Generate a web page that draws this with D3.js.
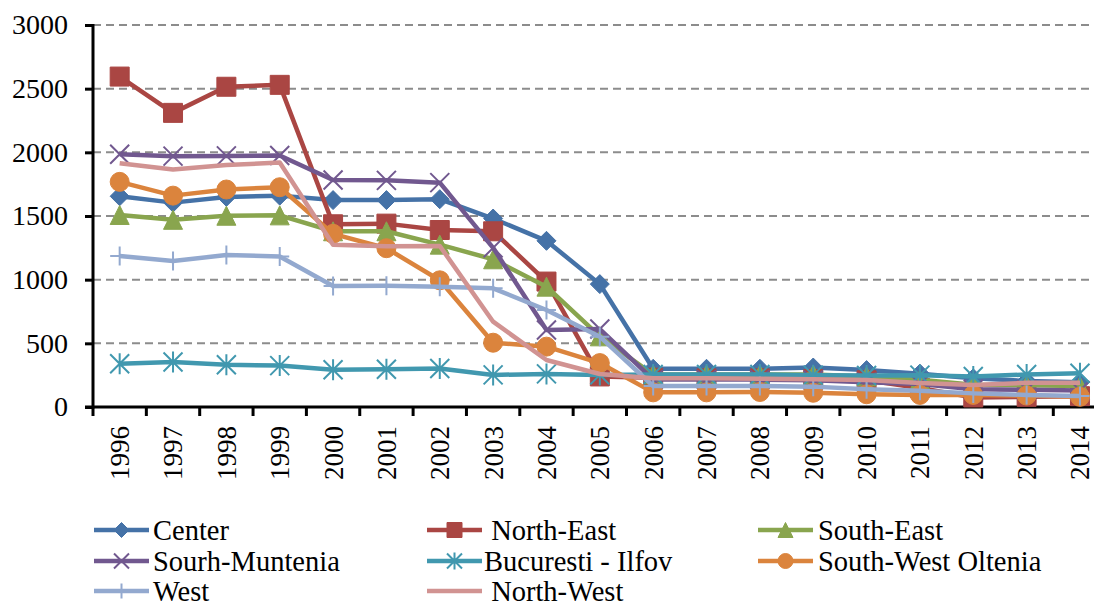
<!DOCTYPE html>
<html>
<head>
<meta charset="utf-8">
<script src="https://d3js.org/d3.v7.min.js"></script>
<style>
  body { margin: 0; background: #fff; }
  svg text { font-family: "Liberation Serif", "Times New Roman", serif; fill: #000; }
</style>
</head>
<body>
<div id="graph"></div>
<script>
// data
var years = ["1996","1997","1998","1999","2000","2001","2002","2003","2004","2005",
             "2006","2007","2008","2009","2010","2011","2012","2013","2014"];
var yTicks = [0, 500, 1000, 1500, 2000, 2500, 3000];

var center        = [1655,1605,1650,1660,1625,1625,1632,1480,1305,965,300,300,300,310,290,262,225,205,195];
var northEast     = [2595,2310,2515,2530,1435,1440,1390,1380,985,240,230,225,225,220,210,150,75,80,85];
var southEast     = [1508,1470,1502,1505,1380,1380,1275,1160,945,555,255,255,255,255,240,215,175,170,165];
var sourhMuntenia = [1985,1970,1972,1975,1783,1780,1762,1250,605,612,215,215,215,210,195,180,140,135,130];
var bucuresti     = [340,354,332,325,292,297,303,252,260,252,255,255,255,250,248,250,240,255,265];
var oltenia       = [1768,1660,1708,1726,1360,1247,995,505,474,345,115,115,118,112,100,95,95,90,80];
var west          = [1186,1147,1193,1182,950,952,945,932,762,552,165,165,165,160,140,128,107,95,86];
var northWest     = [1915,1865,1900,1920,1275,1262,1265,670,369,259,225,225,222,218,212,188,173,190,190];

var series = [
  {name: "Center",             values: center,        color: "#4572A7", marker: "diamond"},
  {name: " North-East",        values: northEast,     color: "#AA4643", marker: "square"},
  {name: "South-East",         values: southEast,     color: "#89A54E", marker: "triangle"},
  {name: "Sourh-Muntenia",     values: sourhMuntenia, color: "#71588F", marker: "x"},
  {name: "Bucuresti - Ilfov",  values: bucuresti,     color: "#4198AF", marker: "star"},
  {name: "South-West Oltenia", values: oltenia,       color: "#DB843D", marker: "circle"},
  {name: "West",               values: west,          color: "#93A9CF", marker: "plus"},
  {name: " North-West",        values: northWest,     color: "#D19392", marker: "none"}
];

var W = 1094, H = 606;
var plotLeft = 93, plotTop = 25, plotBottom = 407;
var band = 53.35;

var svg = d3.select("#graph").append("svg")
  .attr("width", W).attr("height", H);

var x = d3.scaleBand().domain(years).range([plotLeft, plotLeft + band * years.length]);
var y = d3.scaleLinear().domain([0, 3000]).range([plotBottom, plotTop]);

// gridlines
svg.append("g").selectAll("line")
  .data(yTicks.filter(function(d){ return d > 0; }))
  .enter().append("line")
    .attr("x1", plotLeft).attr("x2", W)
    .attr("y1", function(d){ return y(d); })
    .attr("y2", function(d){ return y(d); })
    .attr("stroke", "#8c8c8c")
    .attr("stroke-width", 2)
    .attr("stroke-dasharray", "8,5");

// y axis
var yAxis = svg.append("g")
  .attr("transform", "translate(" + plotLeft + ",0)")
  .call(d3.axisLeft(y).tickValues(yTicks).tickFormat(d3.format("d")).tickSize(8).tickPadding(17));
yAxis.select(".domain").attr("stroke", "#000").attr("stroke-width", 3)
  .attr("d", "M0," + (plotBottom + 1.5) + "V" + (plotTop - 1));
yAxis.selectAll(".tick line").attr("stroke", "#000").attr("stroke-width", 3);
yAxis.selectAll(".tick text").style("font-size", "28px")
  .style("font-family", "Liberation Serif");

// x axis
var xAxis = svg.append("g")
  .attr("transform", "translate(0," + plotBottom + ")")
  .call(d3.axisBottom(x).tickSize(0));
xAxis.select(".domain").attr("stroke", "#000").attr("stroke-width", 3)
  .attr("d", "M" + (plotLeft - 8) + ",0H" + (W + 20));
xAxis.selectAll(".tick line").remove();
xAxis.selectAll(".tick text")
  .style("font-size", "27px")
  .style("font-family", "Liberation Serif")
  .attr("text-anchor", "end")
  .attr("transform", "rotate(-90)")
  .attr("x", -19)
  .attr("y", 0)
  .attr("dy", "0.35em");
// x ticks between categories
svg.append("g").selectAll("line")
  .data(d3.range(years.length + 1))
  .enter().append("line")
    .attr("x1", function(i){ return plotLeft + i * band; })
    .attr("x2", function(i){ return plotLeft + i * band; })
    .attr("y1", plotBottom).attr("y2", plotBottom + 9)
    .attr("stroke", "#000").attr("stroke-width", 3);

// marker shapes
function markerPath(type, s) {
  var h = s / 2;
  switch (type) {
    case "diamond": return "M0," + (-h) + "L" + h + ",0L0," + h + "L" + (-h) + ",0Z";
    case "square": return "M" + (-h) + "," + (-h) + "H" + h + "V" + h + "H" + (-h) + "Z";
    case "triangle": return "M0," + (-h) + "L" + h + "," + h + "L" + (-h) + "," + h + "Z";
    case "circle": return d3.symbol().type(d3.symbolCircle).size(Math.PI * h * h)();
    case "x": return "M" + (-h) + "," + (-h) + "L" + h + "," + h + "M" + h + "," + (-h) + "L" + (-h) + "," + h;
    case "star": return "M" + (-h) + "," + (-h) + "L" + h + "," + h + "M" + h + "," + (-h) + "L" + (-h) + "," + h +
                        "M0," + (-h - 1) + "V" + (h + 1);
    case "plus": return "M" + (-h) + ",0H" + h + "M0," + (-h) + "V" + h;
  }
  return "";
}
function isOpen(type) { return type === "x" || type === "star" || type === "plus"; }

var line = d3.line()
  .x(function(d, i){ return x(years[i]) + x.bandwidth() / 2; })
  .y(function(d){ return y(d); });

series.forEach(function(s) {
  var g = svg.append("g");
  g.append("path")
    .datum(s.values)
    .attr("d", line)
    .attr("fill", "none")
    .attr("stroke", s.color)
    .attr("stroke-width", 4.5)
    .attr("stroke-linejoin", "round");
  if (s.marker !== "none") {
    g.selectAll("path.mk")
      .data(s.values)
      .enter().append("path")
        .attr("class", "mk")
        .attr("transform", function(d, i){
          return "translate(" + (x(years[i]) + x.bandwidth() / 2) + "," + y(d) + ")";
        })
        .attr("d", markerPath(s.marker, 19))
        .attr("fill", isOpen(s.marker) ? "none" : s.color)
        .attr("stroke", s.color)
        .attr("stroke-width", isOpen(s.marker) ? 2 : 1);
  }
});

// legend
var legCols = [{lx: 94, tx: 153}, {lx: 427, tx: 484}, {lx: 758, tx: 818}];
var legRows = [530, 561, 591];

series.forEach(function(s, i) {
  var c = legCols[i % 3], r = legRows[Math.floor(i / 3)];
  var g = svg.append("g");
  g.append("line")
    .attr("x1", c.lx).attr("x2", c.lx + 55)
    .attr("y1", r).attr("y2", r)
    .attr("stroke", s.color).attr("stroke-width", 4.5);
  if (s.marker !== "none") {
    g.append("path")
      .attr("transform", "translate(" + (c.lx + 27.5) + "," + r + ")")
      .attr("d", markerPath(s.marker, 15))
      .attr("fill", isOpen(s.marker) ? "none" : s.color)
      .attr("stroke", s.color)
      .attr("stroke-width", isOpen(s.marker) ? 2 : 1);
  }
  g.append("text")
    .attr("x", c.tx).attr("y", r)
    .attr("dy", "0.35em")
    .style("font-size", "28.5px")
    .style("white-space", "pre")
    .attr("xml:space", "preserve")
    .text(s.name);
});
</script>
</body>
</html>
